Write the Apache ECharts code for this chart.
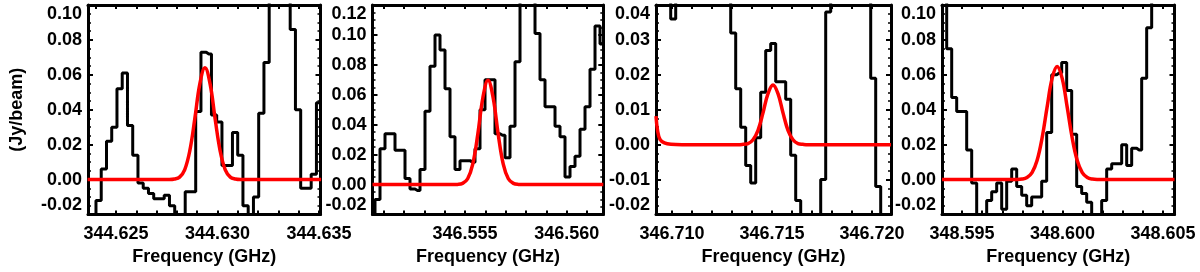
<!DOCTYPE html>
<html>
<head>
<meta charset="utf-8">
<script src="https://cdn.jsdelivr.net/npm/echarts@6/dist/echarts.min.js"></script>
<style>
  html, body { margin: 0; padding: 0; background: #fff; }
  #chart { width: 1200px; height: 272px; }
</style>
</head>
<body>
<div id="chart"></div>
<script>
// 通道谱 (Jy/beam)，超出纵轴范围的值会被裁剪
const chanStart1 = 344.623625;
const chanWidth1 = 0.0002585;
const flux1 = [-0.03, -0.03, -0.012, 0.006, 0.022, 0.030, 0.052, 0.061, 0.031, 0.014,
  -0.002, -0.005, -0.008, -0.011, -0.011, -0.009, -0.015, -0.03, -0.03, -0.007,
  -0.007, 0.039, 0.073, 0.072, 0.037, 0.033, 0.008, 0.008, 0.027, 0.014,
  -0.015, -0.03, -0.010, 0.038, 0.067, 0.13, 0.13, 0.13, 0.13, 0.086,
  0.040, -0.005, -0.005, 0.003, 0.044];

const chanStart2 = 346.55045;
const chanWidth2 = 0.0002459;
const flux2 = [-0.03, -0.010, 0.024, 0.034, 0.034, 0.023, 0.023, 0.004, -0.003, -0.004,
  0.010, 0.049, 0.079, 0.100, 0.090, 0.064, 0.032, 0.010, 0.016, 0.016,
  0.015, 0.024, 0.050, 0.070, 0.070, 0.034, 0.033, 0.018, 0.039, 0.082,
  0.15, 0.15, 0.15, 0.101, 0.070, 0.052, 0.052, 0.039, 0.032, 0.005,
  0.012, 0.019, 0.037, 0.052, 0.077, 0.106, 0.094];

const chanStart3 = 346.70931;
const chanWidth3 = 0.00025;
const flux3 = [0.06, 0.06, 0.06, 0.036, 0.06, 0.06, 0.06, 0.06, 0.06, 0.06,
  0.06, 0.06, 0.06, 0.06, 0.06, 0.032, 0.016, 0.005, -0.006, -0.011,
  0.002, 0.015, 0.027, 0.029, 0.018, 0.018, 0.013, -0.003, -0.016, -0.03,
  -0.03, -0.03, -0.03, -0.010, 0.038, 0.06, 0.06, 0.06, 0.06, 0.06,
  0.06, 0.06, 0.06, 0.019, -0.012, -0.03, -0.03, -0.03];

const chanStart4 = 348.594109;
const chanWidth4 = 0.0002488;
const flux4 = [0.13, 0.075, 0.047, 0.039, 0.039, 0.017, -0.002, -0.03, -0.03, -0.012,
  -0.007, -0.002, -0.017, -0.001, 0.006, -0.004, -0.009, -0.015, -0.010, -0.010,
  -0.001, 0.027, 0.060, 0.061, 0.067, 0.051, 0.026, -0.004, -0.008, -0.013,
  -0.03, -0.03, -0.012, 0.006, 0.009, 0.009, 0.020, 0.008, 0.018, 0.017,
  0.058, 0.087, 0.13, 0.13, 0.13, 0.13, 0.13];

// 高斯拟合曲线 (红线)
const redFreq1 = [344.6236, 344.62738, 344.62763, 344.62788, 344.62813, 344.62838, 344.62863,
  344.62888, 344.62913, 344.62938, 344.62963, 344.62988, 344.63013, 344.63038, 344.63063,
  344.63088, 344.63113, 344.63138, 344.6351];
const redFlux1 = [0, 0, 0, 0.0003, 0.0014, 0.0056, 0.0163, 0.0348, 0.0550, 0.064,
  0.0550, 0.0348, 0.0163, 0.0056, 0.0014, 0.0003, 0, 0, 0];

const redFreq2 = [346.55045, 346.55413, 346.55438, 346.55463, 346.55488, 346.55513, 346.55538,
  346.55563, 346.55588, 346.55613, 346.55638, 346.55663, 346.55688, 346.55713, 346.55738,
  346.55763, 346.55788, 346.55813, 346.5618];
const redFlux2 = [0, 0, 0, 0.0001, 0.0008, 0.0039, 0.0137, 0.0338, 0.0582, 0.0697,
  0.0582, 0.0338, 0.0137, 0.0039, 0.0008, 0.0001, 0, 0, 0];

const redFreq3 = [346.7092, 346.70928, 346.7094, 346.70962, 346.70995, 346.7105, 346.71305,
  346.7133, 346.71355, 346.7138, 346.71405, 346.7143, 346.71455, 346.7148, 346.71505,
  346.7153, 346.71555, 346.7158, 346.71605, 346.7163, 346.71655, 346.7168, 346.71705, 346.72095];
const redFlux3 = [0.0082, 0.0040, 0.0015, 0.0005, 0.0001, 0, 0, 0, 0.0001, 0.0003,
  0.0014, 0.0041, 0.0091, 0.0146, 0.0171, 0.0146, 0.0091, 0.0041, 0.0014, 0.0003,
  0.0001, 0, 0, 0];

const redFreq4 = [348.594, 348.59773, 348.59798, 348.59823, 348.59848, 348.59873, 348.59898,
  348.59923, 348.59948, 348.59973, 348.59998, 348.60023, 348.60048, 348.60073, 348.60098,
  348.60123, 348.60148, 348.60173, 348.60557];
const redFlux4 = [0, 0.0001, 0.0003, 0.0012, 0.0040, 0.0109, 0.0238, 0.0415, 0.0580, 0.0648,
  0.0580, 0.0415, 0.0238, 0.0109, 0.0040, 0.0012, 0.0003, 0.0001, 0];

// 刻度标签
const xTicks1 = [344.625, 344.630, 344.635];
const xTicks2 = [346.555, 346.560];
const xTicks3 = [346.710, 346.715, 346.720];
const xTicks4 = [348.595, 348.600, 348.605];

const panels = [
  { left: 88, width: 232.5, xMin: 344.62362, xMax: 344.63507, xTicks: xTicks1, yMin: -0.02, yMax: 0.10, yStep: 0.02,
    chanStart: chanStart1, chanWidth: chanWidth1, flux: flux1, redFreq: redFreq1, redFlux: redFlux1 },
  { left: 372.5, width: 230.8, xMin: 346.55045, xMax: 346.5618, xTicks: xTicks2, yMin: -0.02, yMax: 0.12, yStep: 0.02,
    chanStart: chanStart2, chanWidth: chanWidth2, flux: flux2, redFreq: redFreq2, redFlux: redFlux2 },
  { left: 656, width: 235, xMin: 346.7092, xMax: 346.72095, xTicks: xTicks3, yMin: -0.02, yMax: 0.04, yStep: 0.01,
    chanStart: chanStart3, chanWidth: chanWidth3, flux: flux3, redFreq: redFreq3, redFlux: redFlux3 },
  { left: 942, width: 232.5, xMin: 348.594, xMax: 348.60557, xTicks: xTicks4, yMin: -0.02, yMax: 0.10, yStep: 0.02,
    chanStart: chanStart4, chanWidth: chanWidth4, flux: flux4, redFreq: redFreq4, redFlux: redFlux4 },
];

const font = { fontFamily: 'Liberation Sans', fontWeight: 'bold', fontSize: 18, color: '#000' };
const frame = { onZero: false, lineStyle: { color: '#000', width: 3 } };
const tick = { inside: true, length: 5, lineStyle: { color: '#000', width: 2 } };

const grid = [];
const xAxis = [];
const yAxis = [];
const series = [];

panels.forEach((p, i) => {
  grid.push({ left: p.left, top: 5, width: p.width, height: 209.5 });

  // 次刻度 每 0.001 GHz
  const minor = [];
  for (let k = Math.ceil(p.xMin / 0.001 - 1e-6); k * 0.001 <= p.xMax; k++) {
    minor.push(+(k * 0.001).toFixed(3));
  }
  const xTick = { inside: true, length: 4, lineStyle: { color: '#000', width: 2 }, customValues: minor };

  xAxis.push({
    type: 'value', gridIndex: i, position: 'bottom', min: p.xMin, max: p.xMax,
    axisLine: frame, axisTick: xTick, splitLine: { show: false },
    axisLabel: { ...font, margin: 11, customValues: p.xTicks, formatter: (v) => v.toFixed(3) },
    name: 'Frequency (GHz)', nameLocation: 'middle', nameGap: 32, nameTextStyle: font,
  });
  xAxis.push({
    type: 'value', gridIndex: i, position: 'top', min: p.xMin, max: p.xMax,
    axisLine: frame, axisTick: xTick, splitLine: { show: false }, axisLabel: { show: false },
  });

  const yBase = {
    type: 'value', gridIndex: i, min: p.yMin, max: p.yMax, interval: p.yStep,
    axisLine: frame, axisTick: tick, splitLine: { show: false },
    minorTick: { show: true, splitNumber: 4, length: 3, lineStyle: { color: '#000', width: 1.5 } },
  };
  yAxis.push({
    ...yBase, position: 'left',
    axisLabel: {
      ...font, margin: 6,
      verticalAlignMaxLabel: 'top', verticalAlignMinLabel: 'bottom',
      formatter: (v) => (Math.abs(v) < 1e-9 ? 0 : v).toFixed(2),
    },
    name: i === 0 ? '(Jy/beam)' : '', nameLocation: 'middle', nameGap: 62, nameTextStyle: font,
  });
  yAxis.push({ ...yBase, position: 'right', axisLabel: { show: false } });

  series.push({
    type: 'line', xAxisIndex: 2 * i, yAxisIndex: 2 * i, step: 'middle', symbol: 'none',
    data: p.flux.map((v, k) => [p.chanStart + k * p.chanWidth, v]),
    lineStyle: { color: '#000', width: 3 }, z: 2,
  });
  series.push({
    type: 'line', xAxisIndex: 2 * i, yAxisIndex: 2 * i, smooth: 0.4, symbol: 'none',
    data: p.redFreq.map((f, k) => [f, p.redFlux[k]]),
    lineStyle: { color: '#ff0000', width: 3.5 }, z: 3,
  });
});

const chart = echarts.init(document.getElementById('chart'));
chart.setOption({
  animation: false,
  backgroundColor: '#fff',
  grid,
  xAxis,
  yAxis,
  series,
});
</script>
</body>
</html>
